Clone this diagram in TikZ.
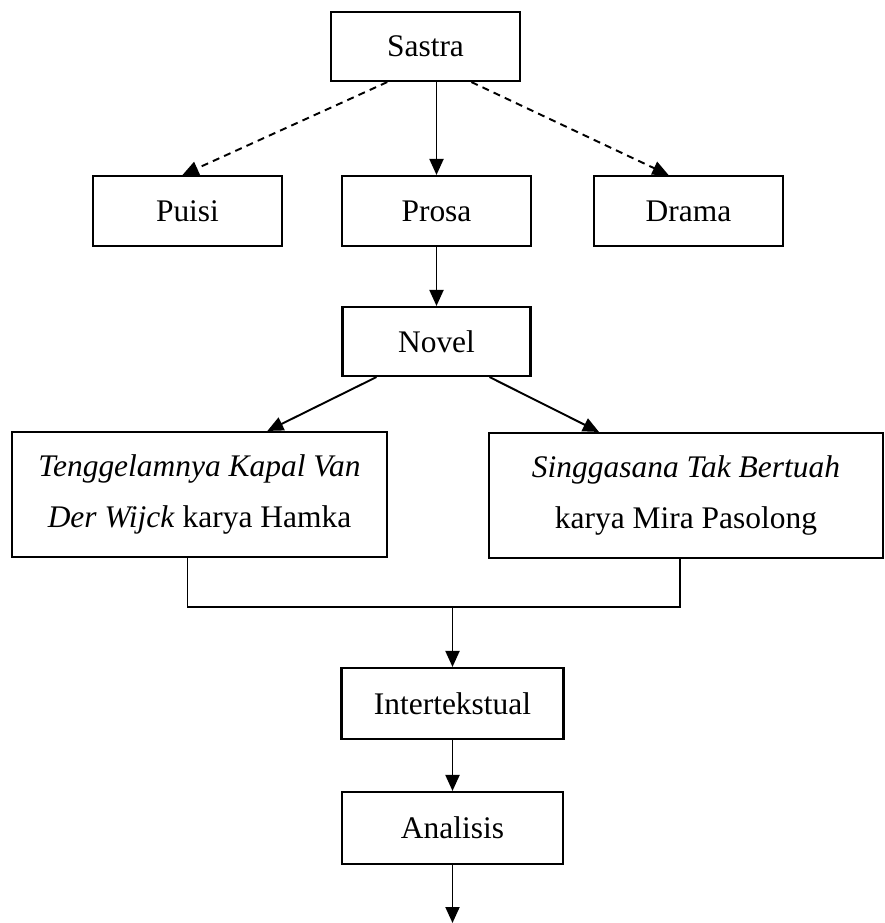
\documentclass[tikz,border=0pt]{standalone}
\usepackage{fontspec}
\setmainfont{Liberation Serif}
\usetikzlibrary{arrows.meta,calc}

\begin{document}
\begin{tikzpicture}[x=0.02cm, y=-0.02cm,
  box/.style={draw, line width=1.2pt, inner sep=0pt, align=center, font=\fontsize{17.9}{28.5}\selectfont},
  arr/.style={-{Triangle[length=0.32cm, width=0.28cm]}, line width=1.1pt},
  dashline/.style={dash pattern=on 4pt off 3pt},
]
\useasboundingbox (0,0) rectangle (885,923);

% Top level
\node[box, minimum width=3.78cm, minimum height=1.38cm] (sastra) at (425.5,46.5) {Sastra};

% Genres
\node[box, minimum width=3.78cm, minimum height=1.4cm] (puisi) at (187.5,211) {Puisi};
\node[box, minimum width=3.78cm, minimum height=1.4cm] (prosa) at (436.5,211) {Prosa};
\node[box, minimum width=3.78cm, minimum height=1.4cm] (drama) at (688.5,211) {Drama};

% Novel
\node[box, minimum width=3.76cm, minimum height=1.38cm] (novel) at (436.5,341.5) {Novel};

% The two novels
\node[box, minimum width=7.5cm, minimum height=2.5cm] (tkv) at (199.5,494.5) {\textit{Tenggelamnya Kapal Van}\\\textit{Der Wijck} karya Hamka};
\node[box, minimum width=7.88cm, minimum height=2.5cm] (stb) at (686,495.5) {\textit{Singgasana Tak Bertuah}\\karya Mira Pasolong};

% Method
\node[box, minimum width=4.44cm, minimum height=1.42cm] (inter) at (452.5,703.5) {Intertekstual};
\node[box, minimum width=4.42cm, minimum height=1.44cm] (analisis) at (452.5,828) {Analisis};

% Arrows
\draw[arr] (prosa.north |- sastra.south) -- (prosa.north);
\draw[arr, dashline] ($(sastra.south west)!0.3!(sastra.south east)$) -- ($(puisi.north)+(-5,0)$);
\draw[arr, dashline] ($(sastra.south west)!0.74!(sastra.south east)$) -- ($(drama.north)+(-20,0)$);
\draw[arr] (prosa) -- (novel);
\draw[arr] ($(novel.south west)+(35,0)$) -- ($(tkv.north west)!0.68!(tkv.north east)$);
\draw[arr] ($(novel.south east)+(-42,0)$) -- ($(stb.north west)+(111,0)$);

% Join of both novels
\coordinate (join) at (452.5,607);
\draw[line width=1.1pt] ($(tkv.south)+(-12,0)$) |- (join) -| ($(stb.south)+(-6,0)$);
\draw[arr] (join) -- (inter);
\draw[arr] (inter) -- (analisis);
\coordinate (out) at (452.5,923);
\draw[arr] (analisis) -- (out);

\end{tikzpicture}
\end{document}
